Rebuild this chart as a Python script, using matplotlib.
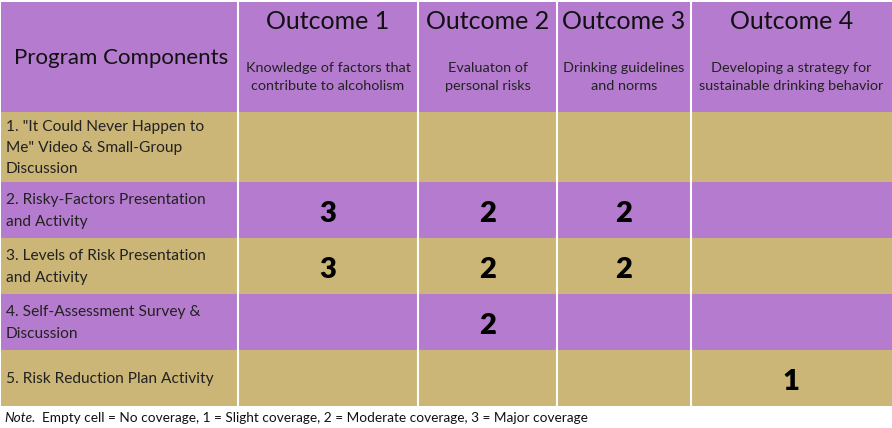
import matplotlib.pyplot as plt
from matplotlib.patches import Rectangle

# table content
components = [
    '1. "It Could Never Happen to\nMe" Video & Small-Group\nDiscussion',
    '2. Risky-Factors Presentation\nand Activity',
    '3. Levels of Risk Presentation\nand Activity',
    '4. Self-Assessment Survey &\nDiscussion',
    '5. Risk Reduction Plan Activity',
]
outcomes = ["Outcome 1", "Outcome 2", "Outcome 3", "Outcome 4"]
outcome_desc = [
    "Knowledge of factors that\ncontribute to alcoholism",
    "Evaluaton of\npersonal risks",
    "Drinking guidelines\nand norms",
    "Developing a strategy for\nsustainable drinking behavior",
]
# coverage rating per component (rows) and outcome (columns); None = empty cell
coverage = [
    [None, None, None, None],
    [3, 2, 2, None],
    [3, 2, 2, None],
    [None, 2, None, None],
    [None, None, None, 1],
]
note_label = "Note."
note_text = "  Empty cell = No coverage, 1 = Slight coverage, 2 = Moderate coverage, 3 = Major coverage"

purple = "#B57BCE"
gold = "#CBB677"
font = ["Lato", "DejaVu Sans"]

# layout in pixels
col_edges = [1, 238, 418, 557, 691, 892]
row_edges = [2, 112, 182, 238, 294, 350, 406]

fig = plt.figure(figsize=(8.92, 4.28), dpi=100)
ax = fig.add_axes([0, 0, 1, 1])
ax.set_xlim(0, 892)
ax.set_ylim(428, 0)
ax.axis("off")

for r in range(len(row_edges) - 1):
    y0, y1 = row_edges[r], row_edges[r + 1]
    color = purple if r % 2 == 0 else gold
    ax.add_patch(Rectangle((col_edges[0], y0), col_edges[-1] - col_edges[0], y1 - y0,
                           facecolor=color, edgecolor="none"))

# white column separators
for x in col_edges[1:-1]:
    ax.plot([x, x], [row_edges[0], row_edges[-1]], color="white", lw=1.5)

# header
hy0, hy1 = row_edges[0], row_edges[1]
ax.text(col_edges[0] + 13, (hy0 + hy1) / 2 + 1, "Program Components", ha="left", va="center",
        fontsize=16, family=font, color="#111111")
for i, (name, desc) in enumerate(zip(outcomes, outcome_desc)):
    cx = (col_edges[i + 1] + col_edges[i + 2]) / 2
    ax.text(cx, 21, name, ha="center", va="center", fontsize=18, family=font, color="#111111")
    ax.text(cx, 77, desc, ha="center", va="center", fontsize=10.4, family=font,
            color="#222222", linespacing=1.66)

# body rows
for r, label in enumerate(components):
    y0, y1 = row_edges[r + 1], row_edges[r + 2]
    cy = (y0 + y1) / 2
    ax.text(col_edges[0] + 5, cy + 1, label, ha="left", va="center", fontsize=11.2,
            family=font, color="#222222", linespacing=1.64)
    for c, val in enumerate(coverage[r]):
        if val is None:
            continue
        cx = (col_edges[c + 1] + col_edges[c + 2]) / 2
        ax.text(cx, cy + 4, str(val), ha="center", va="center", fontsize=21,
                fontweight="heavy", family=font, color="black")

# note line
t = ax.text(4, 422, note_label, ha="left", va="baseline", fontsize=9.8, style="italic",
            family=font, color="#111111")
fig.canvas.draw()
bb = t.get_window_extent()
x_end = ax.transData.inverted().transform((bb.x1, bb.y0))[0]
ax.text(x_end, 422, note_text, ha="left", va="baseline", fontsize=9.8, family=font,
        color="#111111")

fig.savefig("out.png", dpi=100)
